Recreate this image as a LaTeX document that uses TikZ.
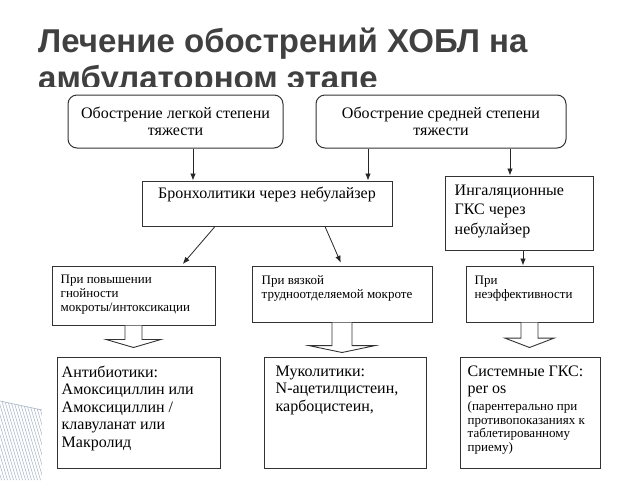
\documentclass[tikz,border=0pt]{standalone}
\usepackage{fontspec}
\setmainfont{Liberation Serif}
\newfontfamily\titlefont{Liberation Sans}
\usetikzlibrary{arrows.meta, positioning, calc}

\definecolor{titlegray}{RGB}{64,64,64}
\definecolor{hatchgray}{RGB}{165,180,196}

\tikzset{
  box/.style={draw=black!80, line width=1pt, fill=white, inner sep=0pt},
  rbox/.style={box, rounded corners=9pt},
  arr/.style={-{Latex[length=7pt,width=5.5pt]}, line width=0.8pt, black!85},
  hollow/.style={draw=black!80, line width=0.9pt, fill=white, line join=miter},
  body/.style={inner sep=0pt, align=left, font=\fontsize{16}{19.5}\selectfont},
  big/.style={inner sep=0pt, align=left, font=\fontsize{16}{17.5}\selectfont},
  small/.style={inner sep=0pt, align=left, font=\fontsize{13}{14}\selectfont},
  tiny/.style={inner sep=0pt, align=left, font=\fontsize{13}{13.5}\selectfont},
  title/.style={inner sep=0pt, text=titlegray, font=\titlefont\bfseries\fontsize{33}{37}\selectfont},
}

\begin{document}
\begin{tikzpicture}[x=1pt, y=-1pt]
  \useasboundingbox[fill=white] (0,0) rectangle (640,480);

  % decoration bottom left
  \begin{scope}
    \clip (0,401) -- (42,410) -- (42,480) -- (0,480) -- cycle;
    \foreach \k in {-12,...,14}
      \draw[hatchgray, line width=0.5pt] (3*\k,395) -- ++(27,90);
  \end{scope}
  \draw[hatchgray, line width=0.6pt] (0,401) -- (42,410);

  % title
  \node[title, anchor=base west] (title) at (38,52) {Лечение обострений ХОБЛ на};
  \begin{scope}
    \clip (0,0) rectangle (640,86.5);
    \node[title, anchor=base west] (title2) at (38,89.5) {амбулаторном этапе};
  \end{scope}

  % severity
  \node[rbox, minimum width=215pt, minimum height=53pt, align=center,
        font=\fontsize{16}{17}\selectfont] (A) at (175.5,121.5)
        {Обострение легкой степени\\тяжести};
  \node[rbox, minimum width=250pt, minimum height=53pt, align=center,
        font=\fontsize{16}{17}\selectfont] (B) at (441,121.5)
        {Обострение средней степени\\тяжести};

  % first line therapy
  \node[box, minimum width=250pt, minimum height=45pt] (C) at (267,203.5) {};
  \node[body, anchor=base] (Ct) at ([shift={(0,18)}]C.north) {Бронхолитики через небулайзер};
  \node[box, minimum width=148pt, minimum height=74pt] (D) at (519,213) {};
  \node[body, anchor=north west] (Dt) at ([shift={(10,9)}]D.north west)
        {Ингаляционные\\ГКС через\\небулайзер};

  % conditions
  \node[box, minimum width=163pt, minimum height=59pt] (E) at (133.5,295.5) {};
  \node[small, anchor=north west] (Et) at ([shift={(9,9.5)}]E.north west)
        {При повышении\\гнойности\\мокроты/интоксикации};
  \node[box, minimum width=180pt, minimum height=56pt] (F) at (342,294) {};
  \node[small, anchor=north west] (Ft) at ([shift={(10,10)}]F.north west)
        {При вязкой\\трудноотделяемой мокроте};
  \node[box, minimum width=127pt, minimum height=56pt] (G) at (529.5,294) {};
  \node[small, anchor=north west] (Gt) at ([shift={(9,10)}]G.north west)
        {При\\неэффективности};

  % drugs
  \node[box, minimum width=163pt, minimum height=111pt] (H) at (138.5,412.5) {};
  \node[big, anchor=north west] (Ht) at ([shift={(5,9)}]H.north west)
        {Антибиотики:\\Амоксициллин или\\Амоксициллин /\\клавуланат или\\Макролид};
  \node[box, minimum width=162pt, minimum height=111pt] (I) at (345,412.5) {};
  \node[big, anchor=north west] (It) at ([shift={(12,9)}]I.north west)
        {Муколитики:\\N-ацетилцистеин,\\карбоцистеин,};
  \node[box, minimum width=140pt, minimum height=111pt] (J) at (530,412.5) {};
  \node[big, anchor=north west] (Jt) at ([shift={(8,9)}]J.north west)
        {Системные ГКС:\\per os};
  \node[tiny, anchor=north west] (Jt2) at ([yshift=-4pt]Jt.south west)
        {(парентерально при\\противопоказаниях к\\таблетированному\\приему)};

  % thin arrows
  \coordinate (a1) at ([xshift=17.5pt]A.south);
  \coordinate (b1) at ([xshift=-73pt]B.south);
  \coordinate (b2) at ([xshift=69pt]B.south);
  \coordinate (d1) at ([xshift=4pt]D.south);
  \draw[arr] (a1) -- (a1 |- C.north);
  \draw[arr] (b1) -- (b1 |- C.north);
  \draw[arr] (b2) -- (b2 |- D.north);
  \draw[arr] (d1) -- (d1 |- G.north);
  \draw[arr, shorten >=2pt] ([xshift=-52pt]C.south) -- ([xshift=48pt]E.north);
  \draw[arr, shorten >=3pt] ([xshift=58pt]C.south) -- (F.north);

  % hollow arrows: shaft half width, head overhang, head start, tip gap
  \foreach \a/\b/\s/\h/\f/\g in {E/H/8.5/19/0.45/9, F/I/10/23/0.68/4, G/J/8.5/16/0.46/9}
    \draw[hollow] ([xshift=-\s pt]\a.south)
      -- ($([xshift=-\s pt]\a.south)!\f!([xshift=-\s pt]\a.south |- \b.north)$)
      -- ++(-\h,0) -- ($(\a.south |- \b.north)+(0,-\g)$)
      -- ($([xshift=\s pt]\a.south)!\f!([xshift=\s pt]\a.south |- \b.north)+(\h,0)$)
      -- ++(-\h,0) -- ([xshift=\s pt]\a.south);
\end{tikzpicture}
\end{document}
